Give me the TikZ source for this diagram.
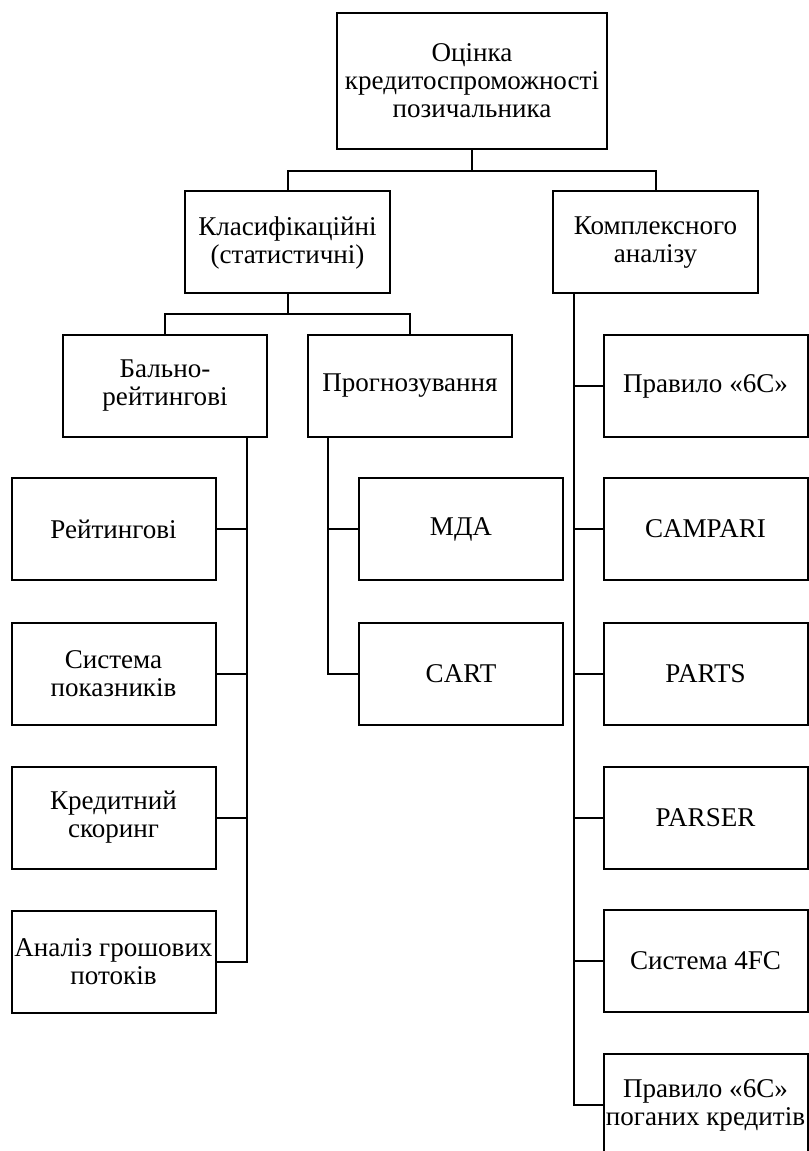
\documentclass[tikz,border=0pt]{standalone}
\usepackage{fontspec}
\setmainfont{Liberation Serif}
\begin{document}
\begin{tikzpicture}[x=0.75pt,y=-0.75pt,
  box/.style={draw,line width=1.5pt,minimum width=153pt,minimum height=76.5pt,align=center,inner sep=0pt,font=\fontsize{20.3}{21}\selectfont},
  line/.style={line width=1.5pt}]
\useasboundingbox (0,0) rectangle (808,1151);

%Kopf
\node[box,minimum width=202.5pt,minimum height=102pt] (ocinka) at (472,81) {Оцінка\\кредитоспроможності\\позичальника};
\node[box,minimum width=153.75pt] (klas) at (287.5,242.5) {Класифікаційні\\(статистичні)};
\node[box,minimum width=153.75pt] (kompl) at (655.5,242.5) {Комплексного\\аналізу};
\node[box] (bal) at (165,386) {Бально-\\рейтингові};
\node[box] (prog) at (410,386) {Прогнозування};

%links
\node[box] (rejt) at (113.5,529) {Рейтингові};
\node[box] (sys) at (113.5,674) {Система\\показників};
\node[box] (skor) at (113.5,817.5) {Кредитний\\скоринг};
\node[box] (analiz) at (113.5,962) {Аналіз грошових\\потоків};

%Mitte
\node[box] (mda) at (461,529) {МДА};
\node[box] (cart) at (461,674) {CART};

%rechts
\node[box] (pr6c) at (705.5,386) {Правило «6С»};
\node[box] (campari) at (705.5,529) {CAMPARI};
\node[box] (parts) at (705.5,674) {PARTS};
\node[box] (parser) at (705.5,817.5) {PARSER};
\node[box] (fc) at (705.5,961) {Система 4FC};
\node[box] (pogani) at (705.5,1105) {Правило «6С»\\поганих кредитів};

%Verbindungen
\coordinate (j1) at (472,171);
\draw[line] (ocinka.south) -- (j1);
\draw[line] (klas.north) |- (j1) -| (kompl.north);
\coordinate (j2) at (287.5,314);
\draw[line] (klas.south) -- (j2);
\draw[line] (bal.north) |- (j2) -| (prog.north);

\coordinate (bv) at ([xshift=-15.75pt]bal.south east);
\draw[line] (bv) |- (analiz);
\foreach \n in {rejt,sys,skor}
  \draw[line] (\n) -- (\n -| bv);

\coordinate (pv) at ([xshift=15.75pt]prog.south west);
\draw[line] (pv) |- (cart);
\draw[line] (mda) -- (mda -| pv);

\coordinate (kv) at ([xshift=16.5pt]kompl.south west);
\draw[line] (kv) |- (pogani);
\foreach \n in {pr6c,campari,parts,parser,fc}
  \draw[line] (\n) -- (\n -| kv);
\end{tikzpicture}
\end{document}
